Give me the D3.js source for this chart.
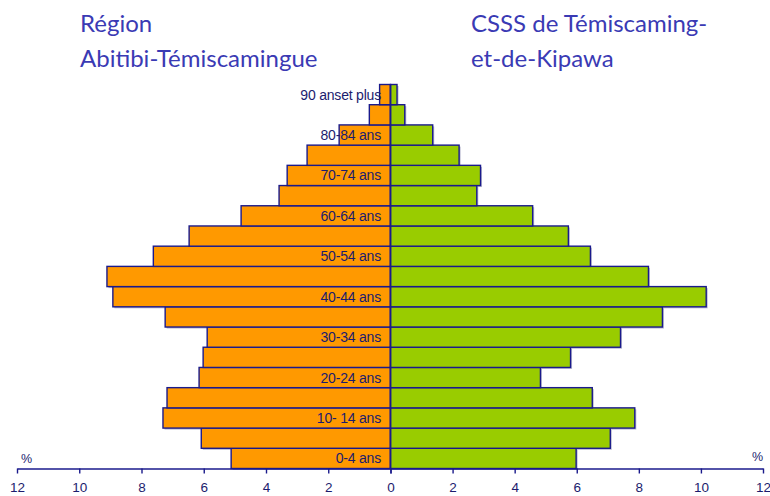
<!DOCTYPE html>
<html><head><meta charset="utf-8">
<script src="https://cdn.jsdelivr.net/npm/d3@7"></script>
<style>body{margin:0;background:#fff}svg{display:block}</style>
</head><body>
<script>
const ageGroups = ["0-4","5-9","10-14","15-19","20-24","25-29","30-34","35-39","40-44","45-49","50-54","55-59","60-64","65-69","70-74","75-79","80-84","85-89","90+"];
const ageLabels = ["0-4 ans","","10- 14 ans","","20-24 ans","","30-34 ans","","40-44 ans","","50-54 ans","","60-64 ans","","70-74 ans","","80-84 ans","","90 anset plus"];
const regionValues = [5.12,6.08,7.31,7.18,6.15,6.02,5.89,7.24,8.92,9.11,7.62,6.47,4.80,3.58,3.32,2.68,1.65,0.68,0.35];
const csssValues   = [5.98,7.08,7.87,6.50,4.83,5.80,7.41,8.76,10.17,8.31,6.44,5.73,4.58,2.78,2.90,2.21,1.36,0.46,0.21];
const tickValues = [0,2,4,6,8,10,12];
const titleLeft = ["Région","Abitibi-Témiscamingue"];
const titleRight = ["CSSS de Témiscaming-","et-de-Kipawa"];

const W = 770, H = 496;
const x0 = 390.5, xMaxR = 763, xMaxL = 17;
const yTop = 84.5, yBot = 468.5;
const navy = "#1a1a8c", txt = "#1c1c6e", titleCol = "#3a3ab4";
const lf = "'Liberation Sans', Arial, sans-serif";

const svg = d3.select("body").append("svg").attr("width", W).attr("height", H);

const xR = d3.scaleLinear().domain([0,12]).range([x0, xMaxR]);
const xL = d3.scaleLinear().domain([0,12]).range([x0, xMaxL]);
const y = d3.scaleBand().domain(ageGroups.slice().reverse()).range([yTop, yBot]).padding(0);

// shadows
const shadow = "#b8b8d0";
svg.append("g").selectAll("rect").data(ageGroups).join("rect")
  .attr("x", (d,i) => xL(regionValues[i]) + 1.5).attr("y", d => y(d) + 1.5)
  .attr("width", (d,i) => x0 - xL(regionValues[i])).attr("height", y.bandwidth())
  .attr("fill", shadow);
svg.append("g").selectAll("rect").data(ageGroups).join("rect")
  .attr("x", x0 + 1.5).attr("y", d => y(d) + 1.5)
  .attr("width", (d,i) => xR(csssValues[i]) - x0).attr("height", y.bandwidth())
  .attr("fill", shadow);

// bars
svg.append("g").selectAll("rect").data(ageGroups).join("rect")
  .attr("x", (d,i) => xL(regionValues[i])).attr("y", d => y(d))
  .attr("width", (d,i) => x0 - xL(regionValues[i])).attr("height", y.bandwidth())
  .attr("fill", "#FF9900").attr("stroke", navy).attr("stroke-width", 1.4);
svg.append("g").selectAll("rect").data(ageGroups).join("rect")
  .attr("x", x0).attr("y", d => y(d))
  .attr("width", (d,i) => xR(csssValues[i]) - x0).attr("height", y.bandwidth())
  .attr("fill", "#99CC00").attr("stroke", navy).attr("stroke-width", 1.4);

// center line
svg.append("line").attr("x1", x0).attr("x2", x0).attr("y1", yTop).attr("y2", yBot)
  .attr("stroke", navy).attr("stroke-width", 1.6);

// age labels
svg.append("g").selectAll("text").data(ageGroups).join("text")
  .attr("x", 381).attr("y", d => y(d) + y.bandwidth()/2 + 5)
  .attr("text-anchor", "end")
  .attr("font-family", lf)
  .attr("font-size", 14).attr("fill", txt).attr("letter-spacing", -0.2)
  .text((d,i) => ageLabels[i]);

// axes
function styleAxis(g){
  g.select(".domain").attr("stroke", navy).attr("stroke-width", 1.6);
  g.selectAll(".tick line").attr("stroke", navy).attr("stroke-width", 1.4);
  g.selectAll(".tick text").attr("fill", txt).attr("font-size", 13.5)
    .attr("font-family", lf);
}
svg.append("g").attr("transform", `translate(0,${yBot})`)
  .call(d3.axisBottom(xL).tickValues(tickValues).tickSizeInner(5).tickSizeOuter(0).tickPadding(9)
    .tickFormat(d => d === 0 ? "" : d3.format("d")(d)))
  .call(styleAxis);
svg.append("g").attr("transform", `translate(0,${yBot})`)
  .call(d3.axisBottom(xR).tickValues(tickValues).tickSizeInner(5).tickSizeOuter(0).tickPadding(9)
    .tickFormat(d3.format("d")))
  .call(styleAxis);

// % labels
svg.append("text").attr("x", 21).attr("y", 463).attr("font-size", 12.5)
  .attr("font-family", lf).attr("fill", txt).text("%");
svg.append("text").attr("x", 752).attr("y", 461).attr("font-size", 12.5)
  .attr("font-family", lf).attr("fill", txt).text("%");

// titles
const tf = "Lato, 'Open Sans', sans-serif";
svg.append("g").selectAll("text").data(titleLeft).join("text")
  .attr("x", 80).attr("y", (d,i) => 32 + i*35)
  .attr("font-family", tf).attr("font-size", 24).attr("fill", titleCol).text(d => d);
svg.append("g").selectAll("text").data(titleRight).join("text")
  .attr("x", 471).attr("y", (d,i) => 32 + i*35)
  .attr("font-family", tf).attr("font-size", 24).attr("fill", titleCol).text(d => d);
</script>
</body></html>
